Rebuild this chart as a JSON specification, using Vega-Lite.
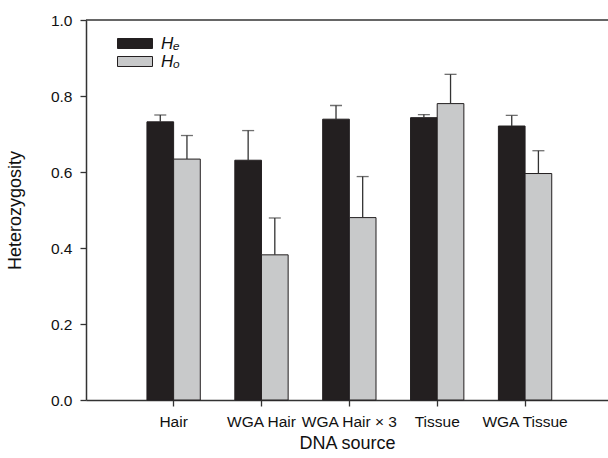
{
  "$schema": "https://vega.github.io/schema/vega-lite/v6.json",
  "width": 522,
  "height": 380,
  "autosize": {"type": "none"},
  "padding": {"left": 86, "top": 20, "right": 0, "bottom": 58},
  "config": {
    "view": {"stroke": null},
    "font": "Liberation Sans",
    "axis": {
      "domainColor": "#333333",
      "domainWidth": 1.5,
      "tickColor": "#333333",
      "tickWidth": 1.3,
      "tickSize": 6,
      "labelColor": "#111111",
      "labelFontSize": 15.5,
      "titleFontSize": 18,
      "titleFontWeight": "normal",
      "titleColor": "#111111",
      "grid": false
    }
  },
  "data": {
    "values": [
      {"source": "Hair", "type": "He", "value": 0.732, "upper": 0.750},
      {"source": "Hair", "type": "Ho", "value": 0.634, "upper": 0.696},
      {"source": "WGA Hair", "type": "He", "value": 0.631, "upper": 0.709},
      {"source": "WGA Hair", "type": "Ho", "value": 0.382, "upper": 0.479},
      {"source": "WGA Hair × 3", "type": "He", "value": 0.739, "upper": 0.775},
      {"source": "WGA Hair × 3", "type": "Ho", "value": 0.480, "upper": 0.588},
      {"source": "Tissue", "type": "He", "value": 0.743, "upper": 0.751},
      {"source": "Tissue", "type": "Ho", "value": 0.780, "upper": 0.857},
      {"source": "WGA Tissue", "type": "He", "value": 0.721, "upper": 0.749},
      {"source": "WGA Tissue", "type": "Ho", "value": 0.596, "upper": 0.656}
    ]
  },
  "encoding": {
    "x": {
      "field": "source",
      "type": "nominal",
      "sort": null,
      "scale": {"paddingInner": 0.393, "paddingOuter": 0.667, "align": 0.52},
      "axis": {"title": "DNA source", "labelAngle": 0, "labelPadding": 8, "titlePadding": 5}
    },
    "xOffset": {"field": "type", "type": "nominal", "scale": {"paddingInner": 0, "paddingOuter": 0}}
  },
  "layer": [
    {
      "mark": {"type": "bar", "stroke": "#231f20", "strokeWidth": 1},
      "encoding": {
        "y": {
          "field": "value",
          "type": "quantitative",
          "scale": {"domain": [0, 1], "nice": false},
          "axis": {"title": "Heterozygosity", "values": [0, 0.2, 0.4, 0.6, 0.8, 1.0], "format": ".1f", "labelPadding": 8, "titlePadding": 26}
        },
        "color": {
          "field": "type",
          "type": "nominal",
          "scale": {"domain": ["He", "Ho"], "range": ["#231f20", "#c8c9ca"]},
          "legend": {
            "title": null,
            "orient": "none",
            "legendX": 40.5,
            "legendY": 15,
            "symbolType": "M-3.5,-1H3.5V1H-3.5Z",
            "symbolSize": 100,
            "symbolStrokeColor": "#231f20",
            "symbolStrokeWidth": 1,
            "symbolOpacity": 1,
            "labelFontSize": 17,
            "labelFontStyle": "italic",
            "labelColor": "#111111",
            "labelOffset": 17.5,
            "rowPadding": 0,
            "labelExpr": "datum.value == 'He' ? 'Hₑ' : 'Hₒ'"
          }
        }
      }
    },
    {
      "mark": {"type": "rule", "color": "#333333", "strokeWidth": 1.3},
      "encoding": {
        "y": {"field": "value", "type": "quantitative"},
        "y2": {"field": "upper"}
      }
    },
    {
      "mark": {"type": "tick", "color": "#333333", "thickness": 1.3, "size": 12, "orient": "horizontal"},
      "encoding": {
        "y": {"field": "upper", "type": "quantitative"}
      }
    },
    {
      "data": {"values": [{"top": 1}]},
      "mark": {"type": "rule", "color": "#333333", "strokeWidth": 1.5},
      "encoding": {"y": {"field": "top", "type": "quantitative"}, "x": null, "xOffset": null}
    }
  ]
}
